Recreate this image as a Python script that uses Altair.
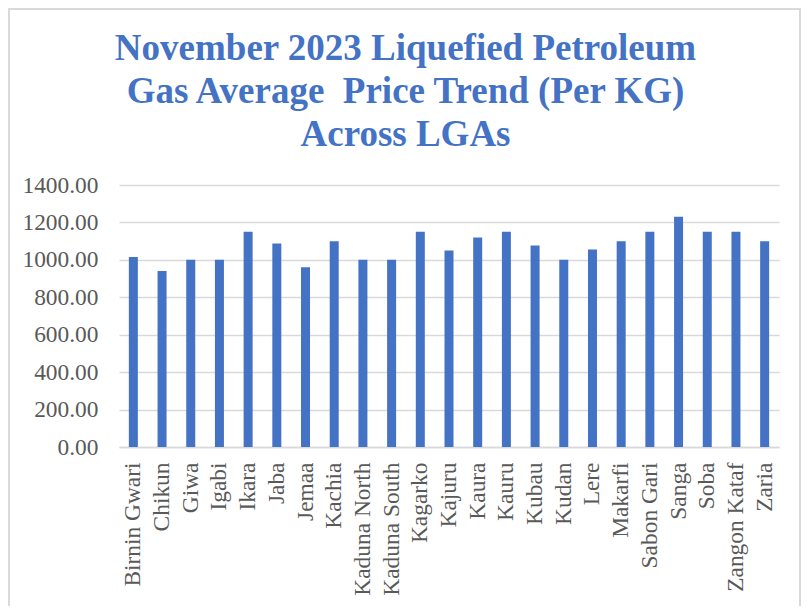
import altair as alt
import pandas as pd

lgas = ["Birnin Gwari", "Chikun", "Giwa", "Igabi", "Ikara", "Jaba", "Jemaa", "Kachia",
        "Kaduna North", "Kaduna South", "Kagarko", "Kajuru", "Kaura", "Kauru", "Kubau",
        "Kudan", "Lere", "Makarfi", "Sabon Gari", "Sanga", "Soba", "Zangon Kataf", "Zaria"]
prices = [1015, 940, 1000, 1000, 1150, 1087, 960, 1100,
          1000, 1000, 1150, 1050, 1120, 1150, 1077,
          1000, 1055, 1100, 1150, 1230, 1150, 1150, 1100]
y_ticks = [0, 200, 400, 600, 800, 1000, 1200, 1400]
title_lines = ["November 2023 Liquefied Petroleum",
               "Gas Average \u00a0Price Trend (Per KG)",
               "Across LGAs"]

df = pd.DataFrame({"LGA": lgas, "Price": prices})

FONT = "Liberation Serif"
BLUE = "#4472C4"
GRID = "#d9d9d9"
LABEL = "#595959"

bars = alt.Chart(df).mark_bar(size=9, color=BLUE).encode(
    x=alt.X("LGA:N", sort=lgas, title=None,
            scale=alt.Scale(paddingInner=0, paddingOuter=0),
            axis=alt.Axis(labelAngle=270, labelFont=FONT, labelFontSize=23.4,
                          labelColor=LABEL, labelPadding=15, ticks=False,
                          domainColor=GRID, domainWidth=1.5, grid=False,
                          labelOverlap=False)),
    y=alt.Y("Price:Q", title=None,
            scale=alt.Scale(domain=[0, 1400], nice=False),
            axis=alt.Axis(values=y_ticks, format=".2f", labelFont=FONT,
                          labelFontSize=23.4, labelColor=LABEL, labelPadding=21,
                          ticks=False, domain=False, gridColor=GRID,
                          gridWidth=1.5))
)

border = alt.Chart(pd.DataFrame({"a": [0]})).mark_rect(
    fillOpacity=0, stroke=GRID, strokeWidth=2
).encode(
    x=alt.value(-110), x2=alt.value(681),
    y=alt.value(-176), y2=alt.value(440)
)

chart = alt.layer(border, bars).properties(
    width=660, height=262,
    padding={"left": 111, "top": 177, "right": 22, "bottom": 159},
    autosize=alt.AutoSizeParams(type="none"),
    title=alt.TitleParams(text=title_lines, font=FONT, fontSize=37,
                          fontWeight="bold", color=BLUE, lineHeight=43,
                          anchor="middle", baseline="bottom", offset=-183,
                          dx=-43.5),
).configure_view(stroke=None)

chart.save("out.html", embed_options={"renderer": "svg", "actions": False})
